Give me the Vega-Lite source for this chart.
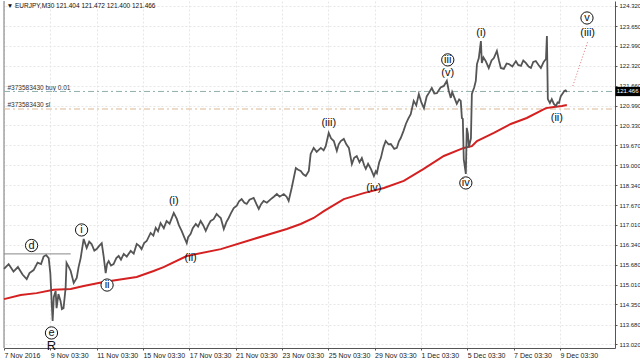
{
"$schema":"https://vega.github.io/schema/vega-lite/v6.json",
"width":611,"height":347,"padding":0,"autosize":{"type":"pad"},
"background":"white",
"config":{"view":{"stroke":null},"font":"Liberation Sans"},
"datasets":{
"price":[{"d":0,"p":115.54},{"d":0.2,"p":115.70},{"d":0.41,"p":115.45},{"d":0.6,"p":115.60},{"d":0.8,"p":115.35},{"d":0.98,"p":115.20},{"d":1.1,"p":115.40},{"d":1.28,"p":115.50},{"d":1.45,"p":115.75},{"d":1.6,"p":115.70},{"d":1.71,"p":115.95},{"d":1.82,"p":116.00},{"d":1.93,"p":115.90},{"d":2.0,"p":115.40},{"d":2.06,"p":114.40},{"d":2.10,"p":113.80},{"d":2.15,"p":114.60},{"d":2.23,"p":114.80},{"d":2.27,"p":114.23},{"d":2.35,"p":114.70},{"d":2.44,"p":114.47},{"d":2.5,"p":114.20},{"d":2.57,"p":114.23},{"d":2.62,"p":114.60},{"d":2.66,"p":114.90},{"d":2.70,"p":115.74},{"d":2.8,"p":115.60},{"d":2.88,"p":115.47},{"d":3.01,"p":115.07},{"d":3.14,"p":115.24},{"d":3.22,"p":115.60},{"d":3.31,"p":115.90},{"d":3.44,"p":116.54},{"d":3.57,"p":116.24},{"d":3.68,"p":116.45},{"d":3.78,"p":116.37},{"d":3.9,"p":116.15},{"d":4.0,"p":116.20},{"d":4.1,"p":116.30},{"d":4.22,"p":116.40},{"d":4.30,"p":115.97},{"d":4.39,"p":115.40},{"d":4.45,"p":115.70},{"d":4.52,"p":115.80},{"d":4.62,"p":115.65},{"d":4.73,"p":115.70},{"d":4.85,"p":115.90},{"d":4.95,"p":115.97},{"d":5.05,"p":115.85},{"d":5.17,"p":116.04},{"d":5.3,"p":115.95},{"d":5.47,"p":116.14},{"d":5.6,"p":116.05},{"d":5.73,"p":116.37},{"d":5.85,"p":116.30},{"d":5.94,"p":116.20},{"d":6.05,"p":116.40},{"d":6.16,"p":116.47},{"d":6.33,"p":116.74},{"d":6.45,"p":116.65},{"d":6.55,"p":116.91},{"d":6.65,"p":116.80},{"d":6.76,"p":117.07},{"d":6.9,"p":116.90},{"d":7.02,"p":117.14},{"d":7.15,"p":117.05},{"d":7.33,"p":117.41},{"d":7.46,"p":117.21},{"d":7.55,"p":117.00},{"d":7.67,"p":116.81},{"d":7.78,"p":116.60},{"d":7.89,"p":116.40},{"d":7.95,"p":116.60},{"d":8.06,"p":116.71},{"d":8.15,"p":116.90},{"d":8.28,"p":117.04},{"d":8.38,"p":116.95},{"d":8.49,"p":117.14},{"d":8.6,"p":117.00},{"d":8.71,"p":116.81},{"d":8.82,"p":117.00},{"d":8.92,"p":117.14},{"d":9.05,"p":117.20},{"d":9.18,"p":117.37},{"d":9.27,"p":117.30},{"d":9.36,"p":117.24},{"d":9.49,"p":116.87},{"d":9.6,"p":117.10},{"d":9.70,"p":117.24},{"d":9.8,"p":117.40},{"d":9.92,"p":117.57},{"d":10.05,"p":117.65},{"d":10.15,"p":117.80},{"d":10.26,"p":117.87},{"d":10.38,"p":117.75},{"d":10.48,"p":117.71},{"d":10.6,"p":117.85},{"d":10.78,"p":117.91},{"d":10.9,"p":117.70},{"d":11.0,"p":117.54},{"d":11.1,"p":117.70},{"d":11.21,"p":117.81},{"d":11.35,"p":117.75},{"d":11.52,"p":117.87},{"d":11.65,"p":117.95},{"d":11.78,"p":118.04},{"d":11.9,"p":117.95},{"d":12.08,"p":118.04},{"d":12.2,"p":117.95},{"d":12.29,"p":117.81},{"d":12.42,"p":118.24},{"d":12.60,"p":118.91},{"d":12.7,"p":118.85},{"d":12.81,"p":118.81},{"d":12.92,"p":118.70},{"d":13.03,"p":118.64},{"d":13.16,"p":118.81},{"d":13.24,"p":119.38},{"d":13.37,"p":119.58},{"d":13.5,"p":119.45},{"d":13.68,"p":119.58},{"d":13.8,"p":119.50},{"d":13.89,"p":119.64},{"d":14.02,"p":120.08},{"d":14.12,"p":119.90},{"d":14.24,"p":119.81},{"d":14.37,"p":119.48},{"d":14.45,"p":119.70},{"d":14.54,"p":119.81},{"d":14.67,"p":119.88},{"d":14.78,"p":119.70},{"d":14.89,"p":119.58},{"d":15.02,"p":119.04},{"d":15.12,"p":119.25},{"d":15.23,"p":119.31},{"d":15.35,"p":119.10},{"d":15.45,"p":119.24},{"d":15.55,"p":119.00},{"d":15.62,"p":118.88},{"d":15.72,"p":119.05},{"d":15.84,"p":118.88},{"d":15.97,"p":118.64},{"d":16.05,"p":118.80},{"d":16.10,"p":118.74},{"d":16.2,"p":119.10},{"d":16.27,"p":119.24},{"d":16.38,"p":119.60},{"d":16.48,"p":119.81},{"d":16.6,"p":119.70},{"d":16.70,"p":119.71},{"d":16.85,"p":119.55},{"d":16.96,"p":119.58},{"d":17.05,"p":119.80},{"d":17.13,"p":119.91},{"d":17.25,"p":120.15},{"d":17.35,"p":120.38},{"d":17.45,"p":120.55},{"d":17.56,"p":120.71},{"d":17.69,"p":121.15},{"d":17.8,"p":121.00},{"d":17.91,"p":121.38},{"d":18.02,"p":121.10},{"d":18.13,"p":120.91},{"d":18.25,"p":121.30},{"d":18.34,"p":121.41},{"d":18.47,"p":121.58},{"d":18.58,"p":121.40},{"d":18.69,"p":121.41},{"d":18.85,"p":121.60},{"d":18.99,"p":121.65},{"d":19.12,"p":121.82},{"d":19.2,"p":121.50},{"d":19.29,"p":121.25},{"d":19.35,"p":121.45},{"d":19.42,"p":121.31},{"d":19.5,"p":121.15},{"d":19.55,"p":121.05},{"d":19.65,"p":121.20},{"d":19.72,"p":121.15},{"d":19.77,"p":120.58},{"d":19.81,"p":120.55},{"d":19.85,"p":119.20},{"d":19.94,"p":118.71},{"d":19.98,"p":120.25},{"d":20.03,"p":120.05},{"d":20.07,"p":119.60},{"d":20.16,"p":119.90},{"d":20.20,"p":121.38},{"d":20.3,"p":121.60},{"d":20.37,"p":121.82},{"d":20.42,"p":122.38},{"d":20.50,"p":122.58},{"d":20.59,"p":123.15},{"d":20.63,"p":122.42},{"d":20.7,"p":122.60},{"d":20.80,"p":122.48},{"d":20.93,"p":122.25},{"d":21.05,"p":122.50},{"d":21.15,"p":122.58},{"d":21.28,"p":122.82},{"d":21.37,"p":122.50},{"d":21.45,"p":122.25},{"d":21.58,"p":122.22},{"d":21.7,"p":122.40},{"d":21.80,"p":122.38},{"d":21.95,"p":122.30},{"d":22.10,"p":122.48},{"d":22.2,"p":122.35},{"d":22.32,"p":122.32},{"d":22.42,"p":122.50},{"d":22.53,"p":122.42},{"d":22.65,"p":122.30},{"d":22.75,"p":122.25},{"d":22.85,"p":122.45},{"d":22.96,"p":122.48},{"d":23.08,"p":122.35},{"d":23.18,"p":122.25},{"d":23.30,"p":122.45},{"d":23.40,"p":122.55},{"d":23.44,"p":123.32},{"d":23.48,"p":121.21},{"d":23.57,"p":121.08},{"d":23.65,"p":121.21},{"d":23.74,"p":121.05},{"d":23.83,"p":120.98},{"d":23.90,"p":121.10},{"d":23.96,"p":121.08},{"d":24.04,"p":121.31},{"d":24.12,"p":121.40},{"d":24.19,"p":121.48},{"d":24.25,"p":121.50},{"d":24.30,"p":121.45}],
"ma":[{"d":0,"p":114.53},{"d":0.72,"p":114.67},{"d":1.41,"p":114.73},{"d":2.14,"p":114.84},{"d":2.88,"p":114.87},{"d":3.44,"p":114.97},{"d":4.30,"p":115.10},{"d":5.73,"p":115.27},{"d":6.46,"p":115.47},{"d":6.89,"p":115.60},{"d":7.89,"p":115.97},{"d":9.36,"p":116.20},{"d":10.78,"p":116.54},{"d":12.21,"p":116.87},{"d":12.81,"p":117.04},{"d":13.37,"p":117.24},{"d":13.81,"p":117.47},{"d":14.67,"p":117.87},{"d":15.53,"p":118.07},{"d":16.40,"p":118.24},{"d":17.26,"p":118.48},{"d":18.12,"p":118.88},{"d":18.99,"p":119.31},{"d":19.85,"p":119.58},{"d":20.20,"p":119.64},{"d":20.42,"p":119.81},{"d":21.15,"p":120.08},{"d":21.88,"p":120.38},{"d":22.57,"p":120.58},{"d":23.40,"p":120.91},{"d":23.74,"p":120.95},{"d":24.09,"p":120.98},{"d":24.30,"p":121.01}],
"waves":[{"d":1.19,"p":116.32,"t":"d","c":1},{"d":2.05,"p":113.40,"t":"e","c":1},{"d":3.35,"p":116.84,"t":"i","c":1},{"d":4.45,"p":115.00,"t":"ii","c":1},{"d":7.33,"p":117.81,"t":"(i)","c":0},{"d":8.06,"p":115.90,"t":"(ii)","c":0},{"d":14.02,"p":120.41,"t":"(iii)","c":0},{"d":15.97,"p":118.24,"t":"(iv)","c":0},{"d":19.16,"p":122.52,"t":"iii","c":1},{"d":19.16,"p":122.08,"t":"(v)","c":0},{"d":20.60,"p":123.42,"t":"(i)","c":0},{"d":19.94,"p":118.41,"t":"iv","c":1},{"d":23.87,"p":120.58,"t":"(ii)","c":0},{"d":25.17,"p":123.92,"t":"v","c":1},{"d":25.20,"p":123.42,"t":"(iii)","c":0}]
},
"encoding":{
"x":{"field":"d","type":"quantitative","scale":{"domain":[0,26.38],"nice":false,"zero":false},
"axis":{"title":null,"values":[0,2,4,6,8,10,12,14,16,18,20,22,24],
"labelExpr":"['7 Nov 2016','9 Nov 03:30','11 Nov 03:30','15 Nov 03:30','17 Nov 03:30','21 Nov 03:30','23 Nov 03:30','25 Nov 03:30','29 Nov 03:30','1 Dec 03:30','5 Dec 03:30','7 Dec 03:30','9 Dec 03:30'][round(datum.value/2)]",
"labelAlign":"left","labelFontSize":7,"labelColor":"#222","labelPadding":1,"tickSize":2,"tickColor":"#555","domainColor":"#555","grid":true,"gridColor":"#e6e6e6","gridDash":[2,2],"labelFlush":false,"labelOverlap":false,"labelBound":false}},
"y":{"field":"p","type":"quantitative","scale":{"domain":[112.897,124.487],"nice":false,"zero":false},
"axis":{"title":null,"orient":"right","values":[113.02,113.68,114.35,115.01,115.68,116.34,117.01,117.67,118.34,119.0,119.67,120.33,120.99,121.66,122.32,122.99,123.65,124.32],
"format":".3f","labelFontSize":6,"labelColor":"#222","labelPadding":2,"tickSize":2,"tickColor":"#555","domainColor":"#555","grid":true,"gridColor":"#e6e6e6","gridDash":[2,2],"labelOverlap":false,"labelBound":false}}
},
"layer":[
{"data":{"values":[{"d":0,"p":112.897,"p2":124.487}]},"mark":{"type":"rule","color":"#777","strokeWidth":1},"encoding":{"y2":{"field":"p2"}}},
{"data":{"values":[{"d":0,"d2":26.38,"p":121.466}]},"mark":{"type":"rule","color":"#8fb0aa","strokeWidth":1,"strokeDash":[6,3,2,3]},"encoding":{"x2":{"field":"d2"}}},
{"data":{"values":[{"d":0,"d2":26.38,"p":120.88}]},"mark":{"type":"rule","color":"#dcb894","strokeWidth":1,"strokeDash":[6,3,2,3]},"encoding":{"x2":{"field":"d2"}}},
{"data":{"values":[{"d":0.15,"p":121.58,"t":"#373583430 buy 0.01"},{"d":0.15,"p":121.01,"t":"#373583430 sl"}]},"mark":{"type":"text","align":"left","baseline":"middle","fontSize":6.5,"color":"#333"},"encoding":{"text":{"field":"t"}}},
{"data":{"values":[{"d":0,"d2":2.88,"p":116.04}]},"mark":{"type":"rule","color":"#888","strokeWidth":1},"encoding":{"x2":{"field":"d2"}}},
{"data":{"name":"ma"},"mark":{"type":"line","color":"#d42020","strokeWidth":2},"encoding":{}},
{"data":{"name":"price"},"mark":{"type":"line","color":"#555","strokeWidth":1.8},"encoding":{}},
{"data":{"values":[{"d":24.56,"p":121.65,"d2":25.21,"p2":123.15}]},"mark":{"type":"rule","color":"#e07070","strokeWidth":1,"strokeDash":[1,2]},"encoding":{"x2":{"field":"d2"},"y2":{"field":"p2"}}},
{"data":{"name":"waves"},"transform":[{"filter":"datum.c==1"}],"mark":{"type":"point","shape":"circle","filled":true,"fill":"white","stroke":"#111","strokeWidth":1,"size":150,"opacity":1},"encoding":{}},
{"data":{"name":"waves"},"mark":{"type":"text","align":"center","baseline":"middle","fontSize":11,"color":"#111"},"encoding":{"text":{"field":"t"}}},
{"data":{"values":[{"d":2.05,"p":112.95,"t":"R"}]},"mark":{"type":"text","align":"center","baseline":"middle","fontSize":13,"color":"#111"},"encoding":{"text":{"field":"t"}}},
{"data":{"values":[{"d":0.12,"p":124.33,"t":"▼ EURJPY,M30  121.404 121.472 121.400 121.466"}]},"mark":{"type":"text","align":"left","baseline":"middle","fontSize":6.5,"color":"#111"},"encoding":{"text":{"field":"t"}}},
{"data":{"values":[{"d":26.40,"d2":27.5,"p":121.31,"p2":121.62}]},"mark":{"type":"rect","color":"#000"},"encoding":{"x2":{"field":"d2"},"y2":{"field":"p2"}}},
{"data":{"values":[{"d":26.46,"p":121.466,"t":"121.466"}]},"mark":{"type":"text","align":"left","baseline":"middle","fontSize":6,"color":"white"},"encoding":{"text":{"field":"t"}}}
]
}
